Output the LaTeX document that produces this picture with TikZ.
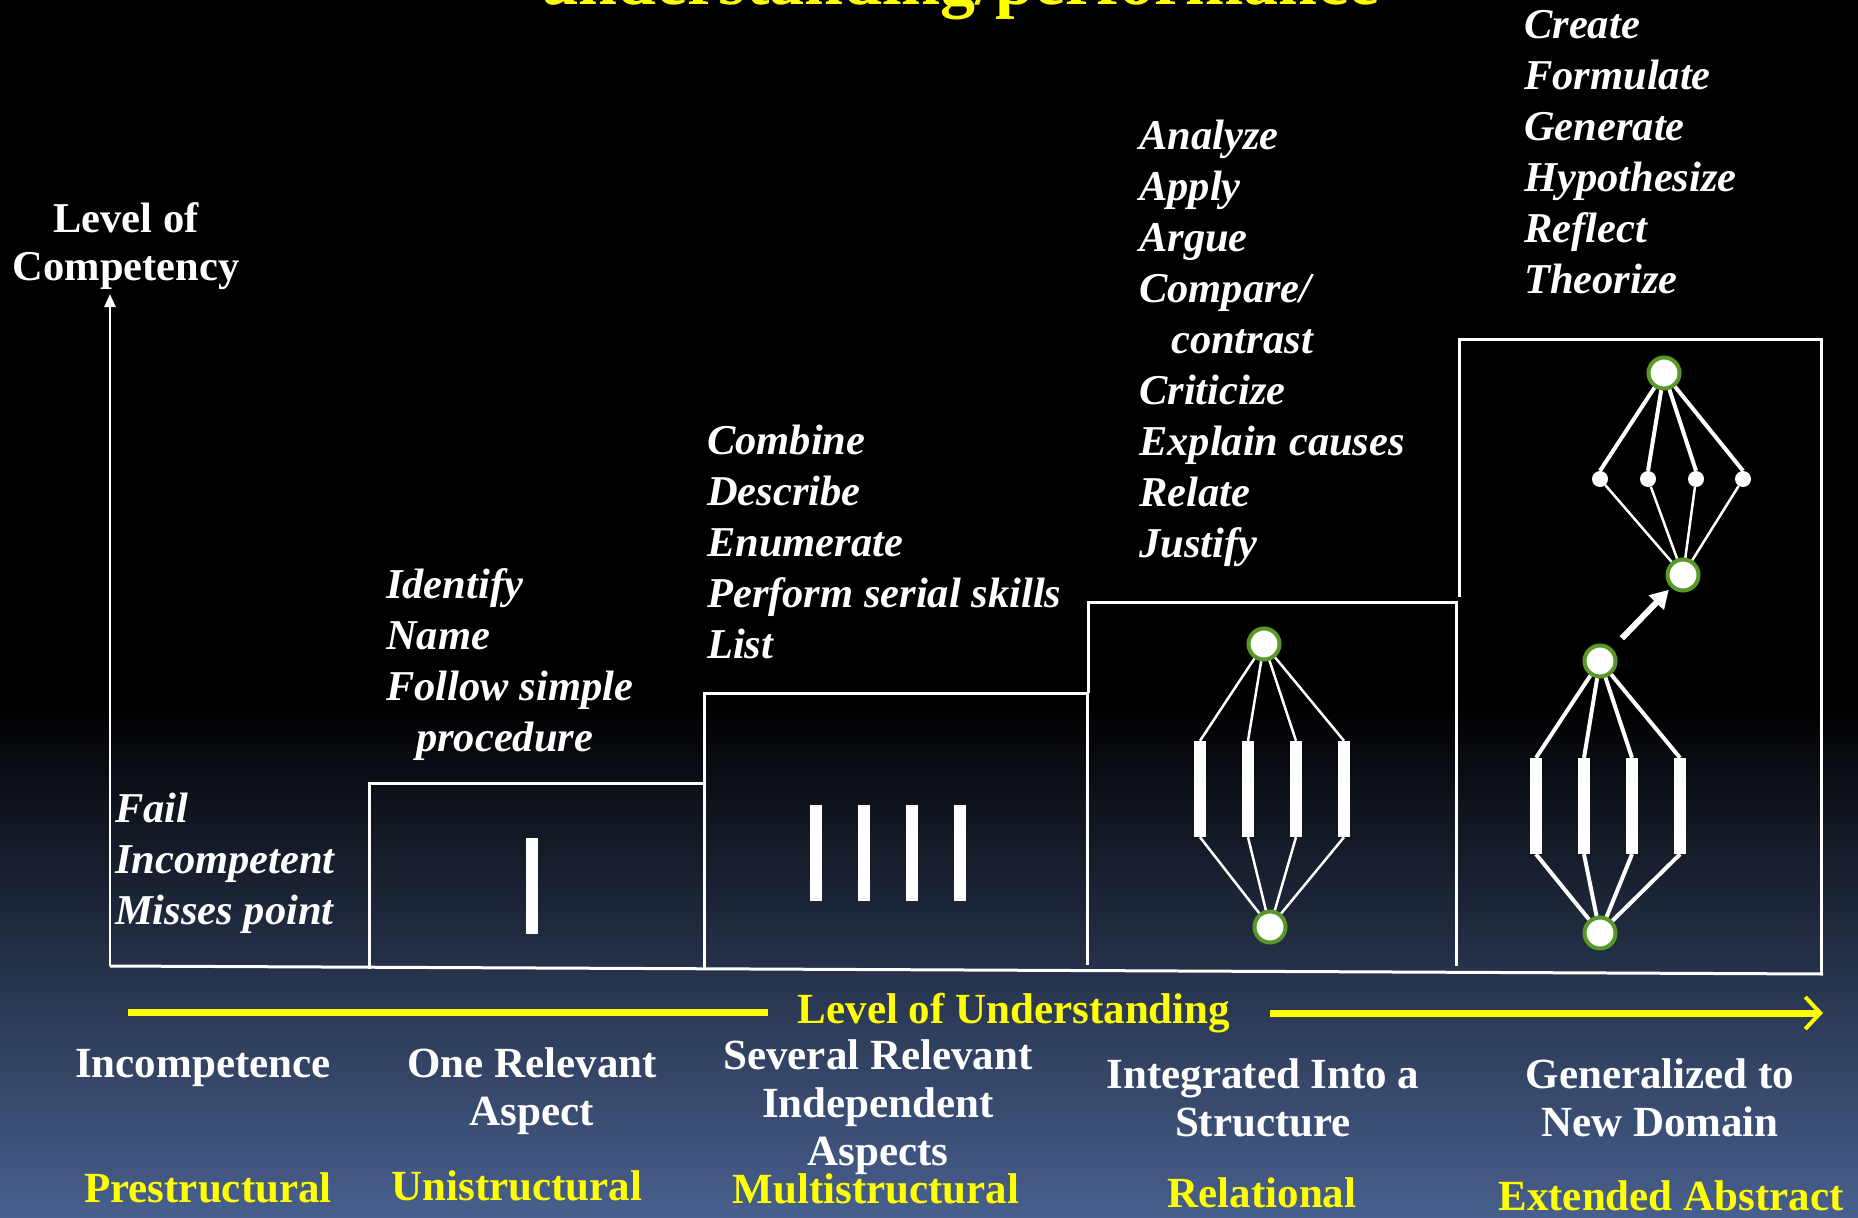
\documentclass[tikz,border=0pt]{standalone}
\usepackage{fontspec}
\setmainfont{Liberation Serif}
\usetikzlibrary{arrows.meta,positioning,shapes}

\definecolor{bgblue}{RGB}{72,96,142}
\definecolor{ringgreen}{RGB}{88,152,40}
\definecolor{soloyellow}{RGB}{255,255,0}

\begin{document}
\begin{tikzpicture}[
    x=1pt, y=-1pt,
    stepline/.style={white, line width=3pt},
    verbs/.style={white, anchor=base west, align=left, inner sep=0pt, font=\fontsize{42.5}{51}\selectfont\bfseries\itshape},
    levelname/.style={white, anchor=base, align=center, inner sep=0pt, font=\fontsize{43}{48}\selectfont\bfseries},
    levelsolo/.style={levelname, soloyellow},
    ring/.style={circle, fill=white, draw=ringgreen, line width=4pt, minimum size=31pt, inner sep=0pt},
    dot/.style={circle, fill=white, minimum size=16pt, inner sep=0pt},
    bar/.style={rectangle, fill=white, minimum width=12pt, minimum height=96pt, inner sep=0pt},
    link/.style={white, line width=2.5pt},
    biglink/.style={white, line width=4pt}
]

% Background
\useasboundingbox (0,0) rectangle (1858,1218);
\fill[black] (0,0) rectangle (1858,701);
\shade[top color=black, bottom color=bgblue] (0,700) rectangle (1858,1218);

% Title (cut off at the top)
\node[levelsolo, font=\fontsize{70}{80}\selectfont\bfseries] (title) at (960,5) {understanding/performance};

% Axes
\coordinate (origin) at (110,966);
\coordinate (ytop) at (110,294);
\coordinate (xend) at (1823,974);
\draw[stepline, line width=2.5pt, -{Triangle[length=13pt,width=11pt]}] (origin) -- (ytop);
\draw[stepline] (origin) -- (xend);
\node[white, anchor=base, align=center, inner sep=0pt, font=\fontsize{42.5}{48}\selectfont\bfseries] (comp) at (126,280) {Level of\\Competency};

% Steps
\draw[stepline] (369,969) -- (369,783) -- (704,783);
\draw[stepline] (704,969) -- (704,693) -- (1087,693) -- (1087,965);
\draw[stepline] (1088,693) -- (1088,602) -- (1456,602) -- (1456,966);
\draw[stepline] (1459,597) -- (1459,339) -- (1821,339) -- (1821,974);

% Verbs (anchored at the baseline of the last line)
\node[verbs] (failverbs) at (115,924) {Fail\\Incompetent\\Misses point};
\node[verbs] (univerbs) at (386,751) {Identify\\Name\\Follow simple\\\hspace*{30pt}procedure};
\node[verbs] (multiverbs) at (707,658) {Combine\\Describe\\Enumerate\\Perform serial skills\\List};
\node[verbs] (relverbs) at (1139,557) {Analyze\\Apply\\Argue\\Compare/\\\hspace*{32pt}contrast\\Criticize\\Explain causes\\Relate\\Justify};
\node[verbs] (extverbs) at (1524,293) {Create\\Formulate\\Generate\\Hypothesize\\Reflect\\Theorize};

% Unistructural
\node[bar] (ubar) at (532,886) {};

% Multistructural
\foreach \x [count=\i] in {816,864,912,960}
    \node[bar] (mbar\i) at (\x,853) {};

% Relational
\node[ring] (rtop) at (1264,644) {};
\node[ring] (rbot) at (1270,927) {};
\foreach \x [count=\i] in {1200,1248,1296,1344} {
    \node[bar] (rbar\i) at (\x,789) {};
    \draw[link] (rtop) -- (rbar\i.north);
    \draw[link] (rbar\i.south) -- (rbot);
}

% Extended abstract
\node[ring] (etop) at (1600,661) {};
\node[ring] (ebot) at (1600,933) {};
\foreach \x [count=\i] in {1536,1584,1632,1680} {
    \node[bar] (ebar\i) at (\x,806) {};
    \draw[biglink] (etop) -- (ebar\i.north);
    \draw[biglink] (ebar\i.south) -- (ebot);
}
\node[ring] (gtop) at (1664,373) {};
\node[ring] (gmid) at (1683,575) {};
\foreach \x [count=\i] in {1600,1648,1696,1743} {
    \node[dot] (gdot\i) at (\x,479) {};
    \draw[biglink] (gtop) -- (gdot\i.north);
    \draw[link] (gdot\i) -- (gmid);
}
\draw[white, line width=6pt, -{Triangle[length=18pt,width=20pt]}, shorten <=14pt, shorten >=3pt] (etop) -- (gmid);

% Level of understanding
\node[levelsolo] (lou) at (1014,1023) {Level of Understanding};
\coordinate (ustart) at (128,1012);
\coordinate (uend) at (1823,1013);
\draw[soloyellow, line width=7pt, shorten >=30pt] (ustart) -- (ustart -| lou.west);
\draw[soloyellow, line width=7pt, shorten <=40pt, -{Straight Barb[length=15pt,width=32pt,line width=4pt]}] (uend -| lou.east) -- (uend);

% Level names (anchored at the baseline of the last line)
\foreach \x/\y/\txt/\nm in {203/1077/{Incompetence}/pre,
                            532/1125/{One Relevant\\Aspect}/uni,
                            878/1165/{Several Relevant\\Independent\\Aspects}/multi,
                            1263/1136/{Integrated Into a\\Structure}/rel,
                            1660/1136/{Generalized to\\New Domain}/ext}
    \node[levelname] (name\nm) at (\x,\y) {\txt};

% SOLO levels
\foreach \x/\y/\txt/\nm in {208/1202/Prestructural/pre,
                            517/1200/Unistructural/uni,
                            876/1203/Multistructural/multi,
                            1262/1207/Relational/rel,
                            1671/1210/Extended Abstract/ext}
    \node[levelsolo] (solo\nm) at (\x,\y) {\txt};

\end{tikzpicture}
\end{document}
